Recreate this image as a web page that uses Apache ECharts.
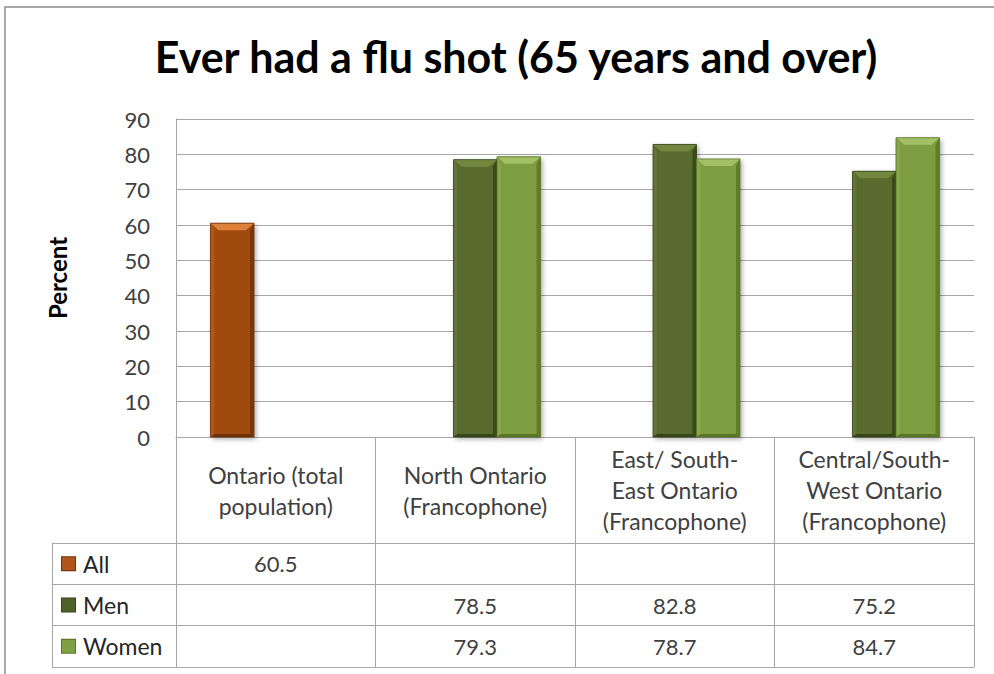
<!DOCTYPE html>
<html>
<head>
<meta charset="utf-8">
<title>Ever had a flu shot (65 years and over)</title>
<script src="https://cdn.jsdelivr.net/npm/echarts@6/dist/echarts.min.js"></script>
<style>
  html, body { margin: 0; padding: 0; background: #ffffff; }
  #chart { width: 994px; height: 674px; }
</style>
</head>
<body>
<div id="chart"></div>
<script>
// Regions compared in the chart (also the header row of the data table)
const categories = [
  'Ontario (total\npopulation)',
  'North Ontario\n(Francophone)',
  'East/ South-\nEast Ontario\n(Francophone)',
  'Central/South-\nWest Ontario\n(Francophone)'
];
// Percent who ever had a flu shot, aged 65 and over
const allValues   = [60.5, null, null, null];
const menValues   = [null, 78.5, 82.8, 75.2];
const womenValues = [null, 79.3, 78.7, 84.7];
const seriesNames = ['All', 'Men', 'Women'];
const yTicks = { min: 0, max: 90, step: 10 };

const FONT = 'Lato, "Open Sans", sans-serif';
const GRID_LINE = '#a6a6a6';
const TEXT = '#404040';

// Bevel palettes for each series
const palettes = [
  { body: '#a04b10', top: '#dc803a', left: '#b0581a', right: '#7a3608', bottom: '#6e3006', icon: '#b0561a' },
  { body: '#586a2e', top: '#72883f', left: '#617439', right: '#3c4a1c', bottom: '#37441a', icon: '#4f6128' },
  { body: '#7e9c40', top: '#a3c066', left: '#88a64b', right: '#617c2a', bottom: '#5a7426', icon: '#7fa043' }
];
const seriesValues = [allValues, menValues, womenValues];
const BAR_RATIO = 0.218; // bar width as a share of one category band

function bevelRenderer(slot, pal) {
  return function (params, api) {
    const cat = api.value(0);
    const val = api.value(1);
    const base = api.coord([cat, 0]);
    const top = api.coord([cat, val]);
    const band = api.size([1, 0])[0];
    const bw = band * BAR_RATIO;
    const x = base[0] - 1.5 * bw + slot * bw;
    const y = top[1];
    const h = base[1] - top[1];
    const bev = Math.min(7, h / 2);
    const side = 4;
    return {
      type: 'group',
      children: [
        { type: 'rect', shape: { x: x, y: y, width: bw, height: h },
          style: { fill: pal.body, shadowBlur: 5, shadowOffsetX: 2, shadowOffsetY: 2, shadowColor: 'rgba(0,0,0,0.35)' } },
        { type: 'polygon', shape: { points: [[x, y], [x + side, y + bev], [x + side, y + h - 3], [x, y + h]] },
          style: { fill: pal.left } },
        { type: 'polygon', shape: { points: [[x + bw, y], [x + bw - side, y + bev], [x + bw - side, y + h - 3], [x + bw, y + h]] },
          style: { fill: pal.right } },
        { type: 'polygon', shape: { points: [[x, y + h], [x + side, y + h - 3], [x + bw - side, y + h - 3], [x + bw, y + h]] },
          style: { fill: pal.bottom } },
        { type: 'polygon', shape: { points: [[x, y], [x + bw, y], [x + bw - side * 2, y + bev], [x + side * 2, y + bev]] },
          style: { fill: pal.top } },
        { type: 'rect', shape: { x: x, y: y, width: bw, height: h },
          style: { fill: 'none', stroke: pal.bottom, lineWidth: 0.8 } }
      ]
    };
  };
}

const barSeries = seriesValues.map(function (vals, s) {
  const data = [];
  vals.forEach(function (v, i) { if (v != null) data.push([i, v]); });
  return {
    name: seriesNames[s],
    type: 'custom',
    xAxisIndex: 0,
    yAxisIndex: 0,
    encode: { x: 0, y: 1 },
    renderItem: bevelRenderer(s, palettes[s]),
    data: data
  };
});

// Data table cells: one text per non-empty value
const cellData = [];
seriesValues.forEach(function (vals, r) {
  vals.forEach(function (v, c) { if (v != null) cellData.push([c, r, v]); });
});

const tableSeries = {
  type: 'custom',
  xAxisIndex: 1,
  yAxisIndex: 1,
  encode: { x: 0, y: 1 },
  data: cellData,
  renderItem: function (params, api) {
    const p = api.coord([api.value(0), api.value(1)]);
    return {
      type: 'text',
      x: p[0],
      y: p[1],
      style: {
        text: api.value(2).toFixed(1),
        align: 'center',
        verticalAlign: 'middle',
        fill: TEXT,
        font: '22px ' + FONT
      }
    };
  }
};

const legendRich = { t: { fontSize: 23, color: '#262626', fontFamily: FONT, padding: [0, 0, 0, 8] } };
palettes.forEach(function (p, i) {
  legendRich['ic' + i] = { width: 13, height: 13, backgroundColor: p.icon, borderColor: p.bottom, borderWidth: 1 };
});

const chart = echarts.init(document.getElementById('chart'), null, { renderer: 'svg' });
chart.setOption({
  backgroundColor: '#ffffff',
  animation: false,
  title: {
    text: 'Ever had a flu shot (65 years and over)',
    left: 511,
    textAlign: 'center',
    top: 30,
    textStyle: { fontFamily: FONT, fontWeight: 'bold', fontSize: 43, color: '#000000' }
  },
  graphic: [
    { type: 'rect', shape: { x: 5, y: 7, width: 1100, height: 800 },
      style: { fill: 'none', stroke: '#8c8c8c', lineWidth: 1.5 }, silent: true, z: -1 }
  ],
  grid: [
    { left: 176, top: 119, width: 798, height: 318 },
    { left: 176, top: 543, width: 798, height: 124 }
  ],
  xAxis: [
    {
      gridIndex: 0,
      type: 'category',
      data: categories,
      boundaryGap: true,
      axisLine: { show: true, lineStyle: { color: GRID_LINE, width: 1 } },
      axisTick: { show: true, length: 106, lineStyle: { color: GRID_LINE } },
      axisLabel: {
        interval: 0,
        margin: 53,
        verticalAlign: 'middle',
        lineHeight: 31,
        fontSize: 23,
        fontFamily: FONT,
        color: TEXT
      },
      splitLine: { show: false }
    },
    {
      gridIndex: 1,
      type: 'category',
      data: categories,
      boundaryGap: true,
      axisLine: { show: true, lineStyle: { color: GRID_LINE } },
      axisTick: { show: false },
      axisLabel: { show: false },
      splitLine: { show: true, lineStyle: { color: GRID_LINE } }
    }
  ],
  yAxis: [
    {
      gridIndex: 0,
      type: 'value',
      min: yTicks.min,
      max: yTicks.max,
      interval: yTicks.step,
      name: 'Percent',
      nameLocation: 'middle',
      nameRotate: 90,
      nameGap: 107,
      nameTextStyle: { fontFamily: FONT, fontWeight: 'bold', fontSize: 24, color: '#000000' },
      axisLine: { show: true, lineStyle: { color: GRID_LINE } },
      axisTick: { show: false },
      axisLabel: { margin: 26, fontSize: 22, fontFamily: FONT, color: TEXT },
      splitLine: { show: true, lineStyle: { color: GRID_LINE, width: 1 } }
    },
    {
      gridIndex: 1,
      type: 'category',
      inverse: true,
      data: seriesNames,
      boundaryGap: true,
      axisLine: { show: true, lineStyle: { color: GRID_LINE } },
      axisTick: { show: true, length: 124, lineStyle: { color: GRID_LINE } },
      axisLabel: {
        margin: 114,
        align: 'left',
        formatter: function (name, idx) { return '{ic' + idx + '|}{t|' + name + '}'; },
        rich: legendRich
      },
      splitLine: { show: true, lineStyle: { color: GRID_LINE } }
    },
    {
      // left border of the legend column
      gridIndex: 1,
      type: 'category',
      data: seriesNames,
      offset: 124,
      position: 'left',
      axisLine: { show: true, lineStyle: { color: GRID_LINE } },
      axisTick: { show: false },
      axisLabel: { show: false },
      splitLine: { show: false }
    }
  ],
  series: barSeries.concat([tableSeries])
});
</script>
</body>
</html>
